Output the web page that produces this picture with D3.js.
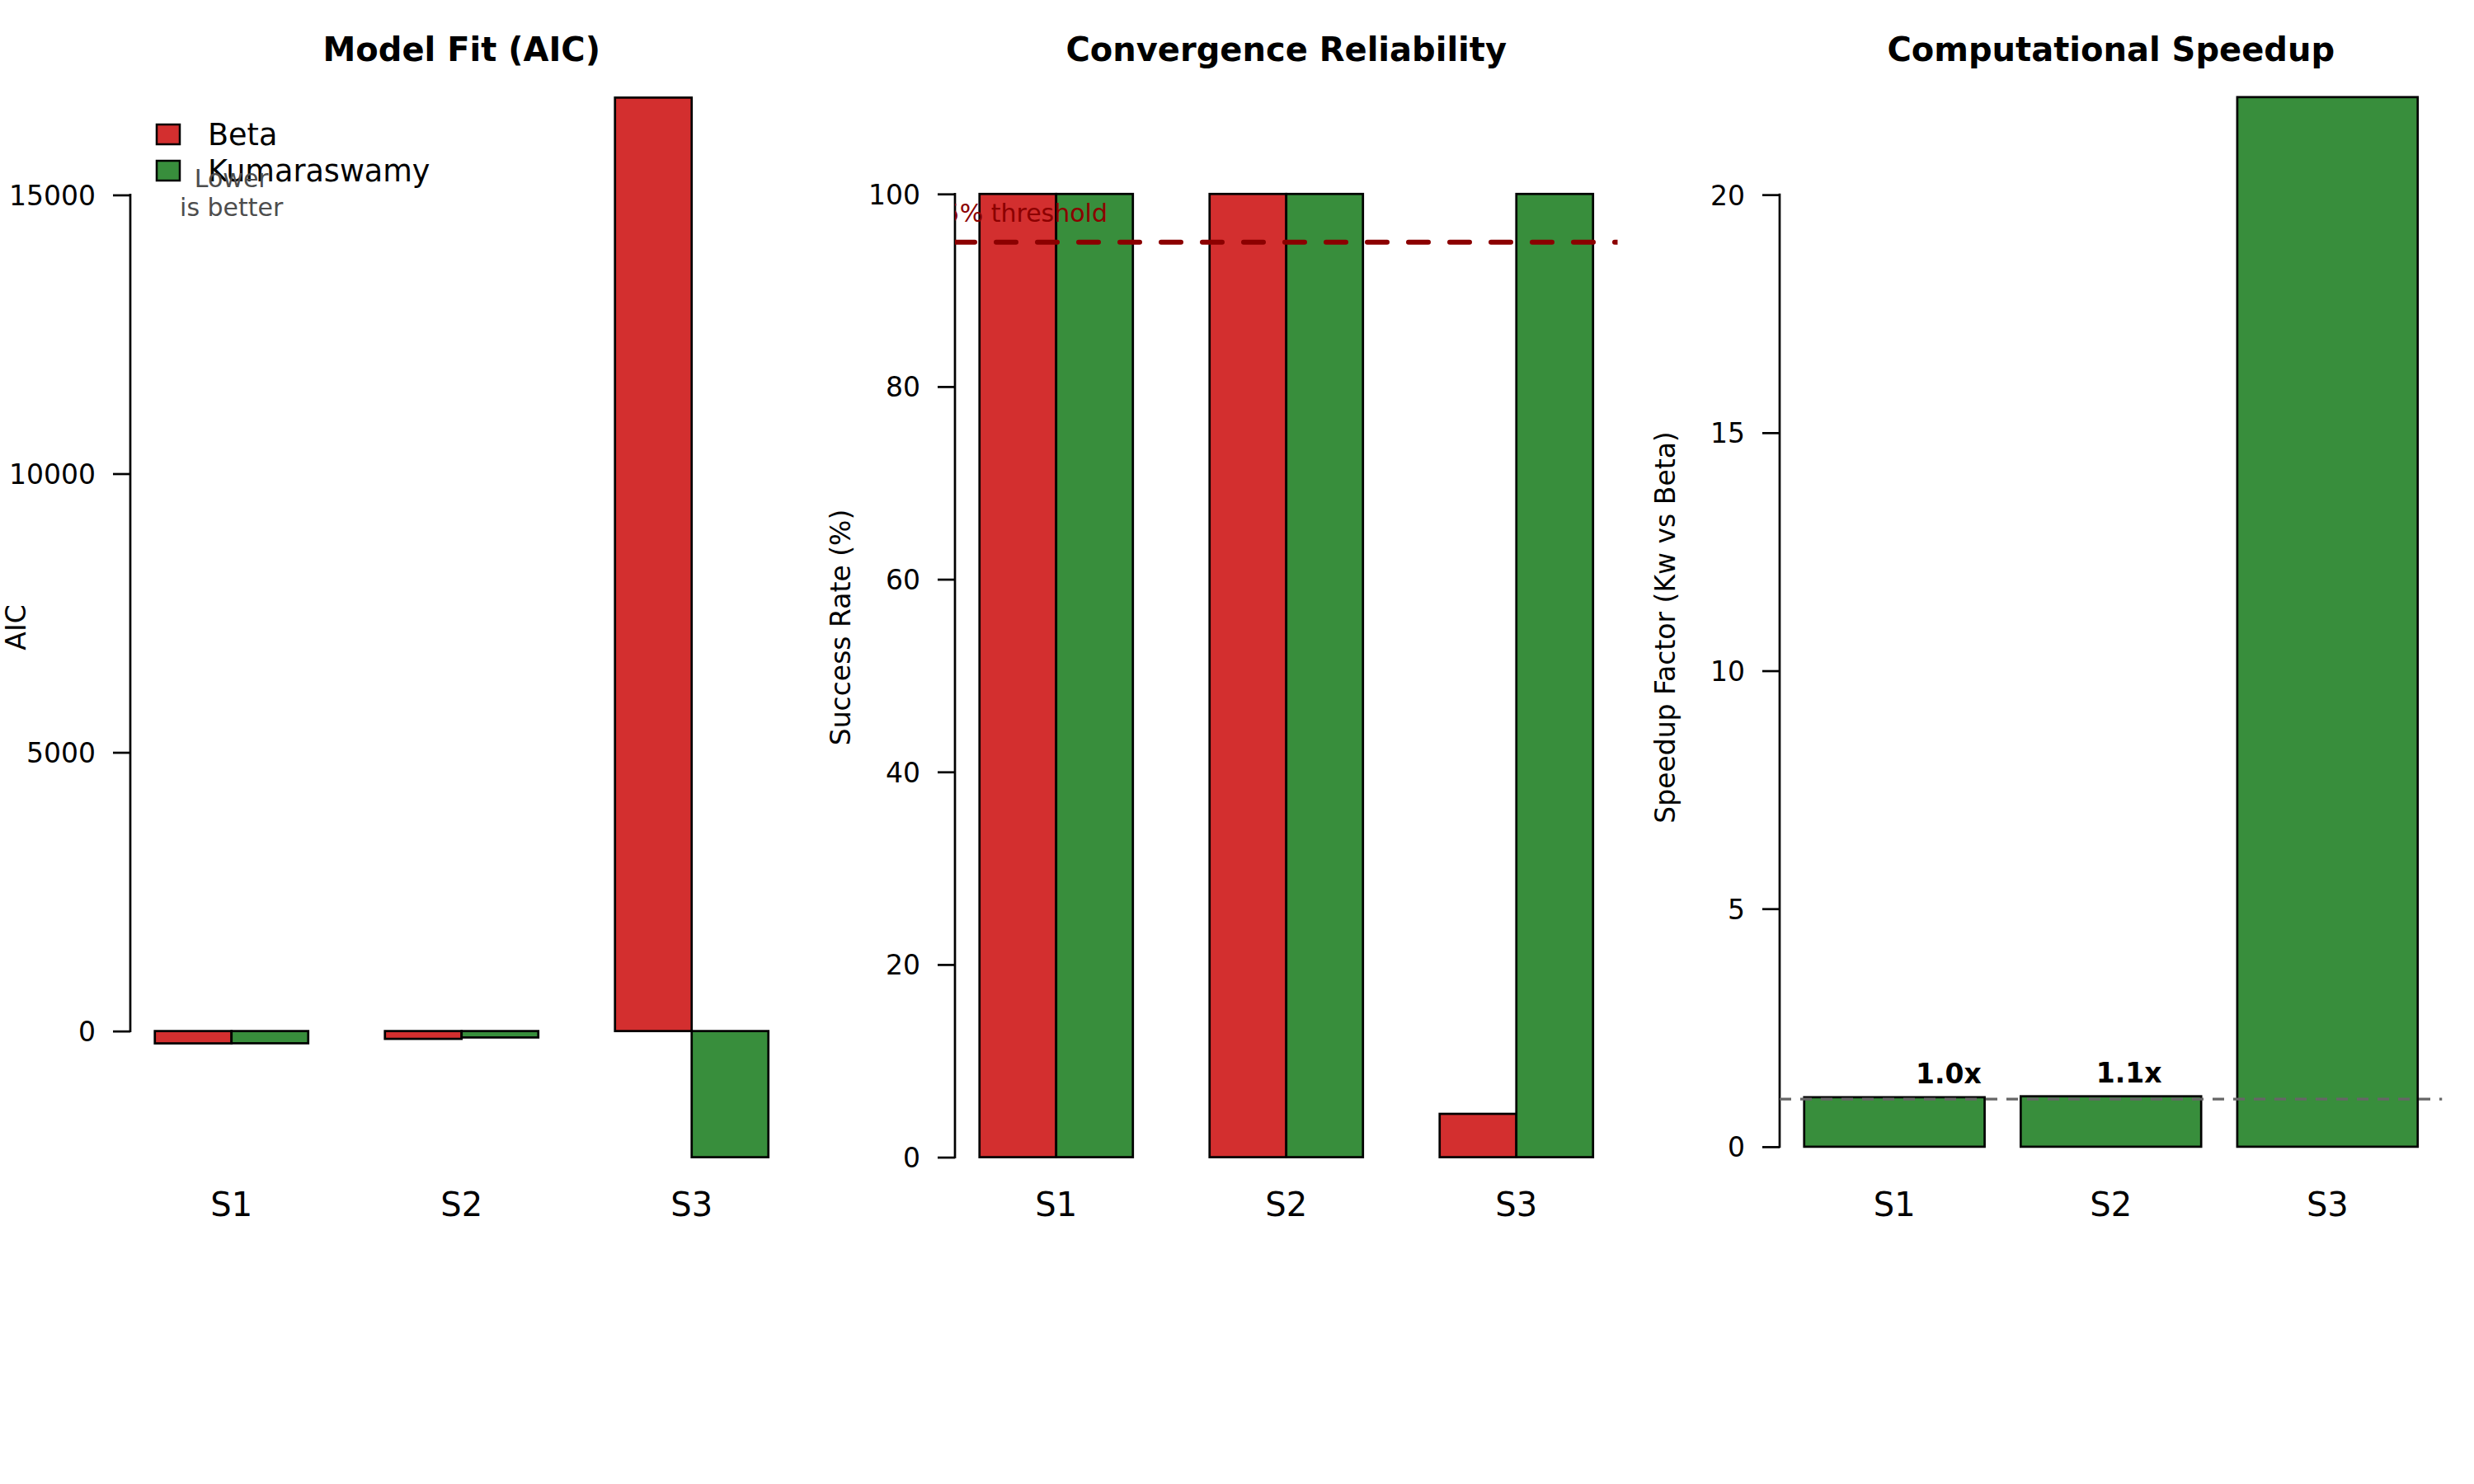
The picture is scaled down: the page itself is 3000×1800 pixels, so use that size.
<!DOCTYPE html>
<html>
<head>
<meta charset="utf-8">
<script src="https://cdn.jsdelivr.net/npm/d3@7"></script>
<style>
  body { margin: 0; background: #fff; }
  text { font-family: "DejaVu Sans", sans-serif; }
</style>
</head>
<body>
<div id="chart"></div>
<script>
const scenarios = ["S1", "S2", "S3"];
const models = ["Beta", "Kumaraswamy"];
const modelColors = ["#D32F2F", "#388E3C"];

const aicBeta = [-221, -140, 16746];
const aicKw = [-219, -115, -2263];
const aicTicks = [0, 5000, 10000, 15000];

const convBeta = [100, 100, 4.5];
const convKw = [100, 100, 100];
const convTicks = [0, 20, 40, 60, 80, 100];
const convThreshold = 95;

const speedup = [1.04, 1.06, 22.05];
const speedupLabels = ["1.0x", "1.1x", ""];
const speedTicks = [0, 5, 10, 15, 20];
const speedRef = 1;

const width = 3000, height = 1800;
const panelW = 1000;
const plot = { left: 158, right: 961.5, top: 67, bottom: 1455 };

const svg = d3.select("#chart")
  .append("svg")
  .attr("width", width)
  .attr("height", height)
  .style("background", "#fff");

function panel(i, title, ylab, yDomain, ticks) {
  const g = svg.append("g").attr("transform", "translate(" + i * panelW + ",0)");

  g.append("clipPath")
    .attr("id", "clip" + i)
    .append("rect")
    .attr("x", plot.left)
    .attr("y", plot.top)
    .attr("width", plot.right - plot.left)
    .attr("height", plot.bottom - plot.top);

  const y = d3.scaleLinear().domain(yDomain).range([plot.bottom, plot.top]);

  const ax = g.append("g")
    .attr("transform", "translate(" + plot.left + ",0)")
    .call(d3.axisLeft(y).tickValues(ticks).tickSize(21).tickPadding(21).tickFormat(d3.format("d")));
  ax.select(".domain").remove();
  ax.selectAll(".tick line").attr("stroke", "#000").attr("stroke-width", 2.7);
  ax.selectAll(".tick text")
    .attr("fill", "#000")
    .attr("dy", "0.36em")
    .style("font-size", "33px")
    .style("font-family", "DejaVu Sans");
  ax.append("line")
    .attr("y1", y(ticks[0]))
    .attr("y2", y(ticks[ticks.length - 1]))
    .attr("stroke", "#000")
    .attr("stroke-width", 2.7)
    .attr("stroke-linecap", "square");

  g.append("text")
    .attr("x", (plot.left + plot.right) / 2)
    .attr("y", 74)
    .attr("text-anchor", "middle")
    .style("font-size", "40px")
    .style("font-weight", "bold")
    .text(title);

  g.append("text")
    .attr("transform", "translate(" + (plot.left - 127) + "," + (plot.top + plot.bottom) / 2 + ") rotate(-90)")
    .attr("text-anchor", "middle")
    .style("font-size", "33px")
    .text(ylab);

  return { g, y };
}

function drawBars(g, x, y, rows) {
  g.selectAll("rect.bar")
    .data(rows)
    .enter()
    .append("rect")
    .attr("class", "bar")
    .attr("x", d => x(d.x0))
    .attr("width", d => x(d.x1) - x(d.x0))
    .attr("y", d => y(Math.max(0, d.v)))
    .attr("height", d => Math.abs(y(d.v) - y(0)))
    .attr("fill", d => d.color)
    .attr("stroke", "#000")
    .attr("stroke-width", 2.7);
}

function groupedRows(a, b) {
  const rows = [];
  scenarios.forEach((s, i) => {
    [a[i], b[i]].forEach((v, j) => {
      const x0 = 1 + i * 3 + j;
      rows.push({ x0: x0, x1: x0 + 1, v: v, color: modelColors[j] });
    });
  });
  return rows;
}

function names(g, x, centers) {
  g.selectAll("text.name")
    .data(scenarios)
    .enter()
    .append("text")
    .attr("class", "name")
    .attr("x", (d, i) => x(centers[i]))
    .attr("y", 1475)
    .attr("text-anchor", "middle")
    .style("font-size", "40px")
    .text(d => d);
}

// grouped barplot x in barplot units: bars at [1,2],[2,3],[4,5]... with 4% padding
const xGroup = d3.scaleLinear().domain([0.68, 9.32]).range([plot.left, plot.right]);
const groupCenters = scenarios.map((s, i) => 2 + i * 3);

// Panel 1: AIC
const p1 = panel(0, "Model Fit (AIC)", "AIC", [-3023, 17506], aicTicks);
drawBars(p1.g, xGroup, p1.y, groupedRows(aicBeta, aicKw));
names(p1.g, xGroup, groupCenters);

const legend = p1.g.append("g")
  .selectAll("g")
  .data(models)
  .enter()
  .append("g")
  .attr("transform", (d, i) => "translate(190," + (163 + i * 44) + ")");
legend.append("rect")
  .attr("x", 0)
  .attr("y", -12)
  .attr("width", 28)
  .attr("height", 24)
  .attr("fill", (d, i) => modelColors[i])
  .attr("stroke", "#000")
  .attr("stroke-width", 2.5);
legend.append("text")
  .attr("x", 62)
  .attr("y", 13)
  .style("font-size", "36.6px")
  .text(d => d);

p1.g.selectAll("text.note")
  .data(["Lower", "is better"])
  .enter()
  .append("text")
  .attr("class", "note")
  .attr("x", xGroup(2))
  .attr("y", (d, i) => 227 + i * 35)
  .attr("text-anchor", "middle")
  .attr("fill", "#4d4d4d")
  .style("font-size", "30px")
  .text(d => d);

// Panel 2: convergence
const p2 = panel(1, "Convergence Reliability", "Success Rate (%)", [-4.4, 114.4], convTicks);
drawBars(p2.g, xGroup, p2.y, groupedRows(convBeta, convKw));
names(p2.g, xGroup, groupCenters);

const clip2 = p2.g.append("g").attr("clip-path", "url(#clip1)");
clip2.append("line")
  .attr("x1", plot.left)
  .attr("x2", plot.right)
  .attr("y1", p2.y(convThreshold))
  .attr("y2", p2.y(convThreshold))
  .attr("stroke", "#8B0000")
  .attr("stroke-width", 6)
  .attr("stroke-dasharray", "24,26")
  .attr("stroke-linecap", "round");
clip2.append("text")
  .attr("x", xGroup(1.5))
  .attr("y", p2.y(convThreshold + 3))
  .attr("dy", "0.36em")
  .attr("text-anchor", "middle")
  .attr("fill", "#8B0000")
  .style("font-size", "30px")
  .text(convThreshold + "% threshold");

// Panel 3: speedup, single bars width 1 with space 0.2
const p3 = panel(2, "Computational Speedup", "Speedup Factor (Kw vs Beta)", [-1.11, 22.93], speedTicks);
const xSingle = d3.scaleLinear().domain([0.064, 3.736]).range([plot.left, plot.right]);
const speedRows = speedup.map((v, i) => ({ x0: 0.2 + i * 1.2, x1: 1.2 + i * 1.2, v: v, color: modelColors[1] }));
drawBars(p3.g, xSingle, p3.y, speedRows);
names(p3.g, xSingle, speedRows.map(d => (d.x0 + d.x1) / 2));

const clip3 = p3.g.append("g").attr("clip-path", "url(#clip2)");
clip3.append("line")
  .attr("x1", plot.left)
  .attr("x2", plot.right)
  .attr("y1", p3.y(speedRef))
  .attr("y2", p3.y(speedRef))
  .attr("stroke", "#666")
  .attr("stroke-width", 3.2)
  .attr("stroke-dasharray", "14,11");
clip3.selectAll("text.lab")
  .data(speedup)
  .enter()
  .append("text")
  .attr("class", "lab")
  .attr("x", (d, i) => xSingle(i + 1))
  .attr("y", d => p3.y(d + 0.5))
  .attr("dy", "0.36em")
  .attr("text-anchor", "middle")
  .style("font-size", "33px")
  .style("font-weight", "bold")
  .text((d, i) => speedupLabels[i]);
</script>
</body>
</html>
